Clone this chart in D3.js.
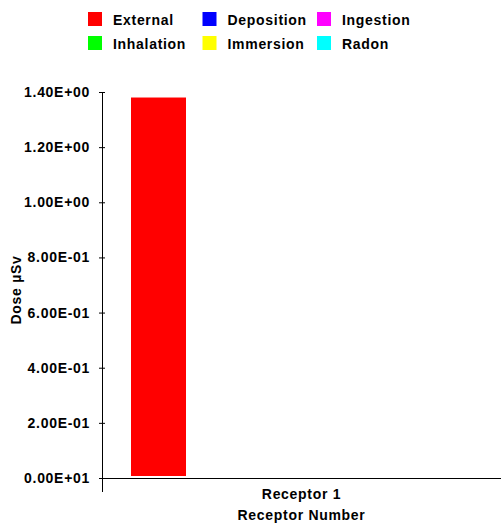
<!DOCTYPE html>
<html>
<head>
<meta charset="utf-8">
<script src="https://cdn.jsdelivr.net/npm/d3@7"></script>
<style>
  body { margin: 0; background: #fff; }
  text { font-family: "Liberation Sans", Arial, sans-serif; font-weight: bold; font-size: 14px; letter-spacing: 0.7px; fill: #000; }
</style>
</head>
<body>
<div id="chart-area"></div>
<script>
let receptors = ["Receptor 1"]
let seriesNames = ["External", "Deposition", "Ingestion", "Inhalation", "Immersion", "Radon"]
let seriesColors = ["#ff0000", "#0000ff", "#ff00ff", "#00ff00", "#ffff00", "#00ffff"]
let doseValues = [[1.38, 0, 0, 0, 0, 0]]   // per receptor, per series
let yTicks = [0, 0.2, 0.4, 0.6, 0.8, 1.0, 1.2, 1.4]
let yTickLabels = ["0.00E+01", "2.00E-01", "4.00E-01", "6.00E-01", "8.00E-01", "1.00E+00", "1.20E+00", "1.40E+00"]

let margin = { top: 92, right: 0, bottom: 45, left: 102 }
let canvasWidth = 501 - margin.left - margin.right
let canvasHeight = 523 - margin.top - margin.bottom

let svg = d3.select("#chart-area").append("svg")
  .attr("width", 501)
  .attr("height", 523)

// legend, 3 columns
let legend = svg.append("g").attr("transform", "translate(88, 12)")
let legendItems = legend.selectAll("g")
  .data(seriesNames)
  .enter()
  .append("g")
    .attr("transform", (d, i) => "translate(" + (i % 3) * 114.5 + ", " + Math.floor(i / 3) * 24 + ")")
legendItems.append("rect")
  .attr("width", 14)
  .attr("height", 14)
  .attr("fill", (d, i) => seriesColors[i])
legendItems.append("text")
  .attr("x", 25)
  .attr("y", 13)
  .text(d => d)

let graphGroup = svg.append("g")
  .attr("transform", "translate(" + margin.left + ", " + margin.top + ")")

let y = d3.scaleLinear()
  .domain([0, 1.4])
  .range([canvasHeight, 0])

let x = d3.scaleBand()
  .domain(receptors)
  .range([0, canvasWidth])

let x1 = d3.scaleBand()
  .domain(seriesNames)
  .range([29, 29 + 6 * 55])

// bars
let groups = graphGroup.selectAll("g.receptor")
  .data(receptors)
  .enter()
  .append("g")
    .attr("class", "receptor")
    .attr("transform", d => "translate(" + x(d) + ", 0)")

groups.selectAll("rect")
  .data((d, i) => doseValues[i].map((v, j) => ({ name: seriesNames[j], value: v, color: seriesColors[j] })))
  .enter()
  .append("rect")
    .filter(d => d.value > 0)
    .attr("x", d => x1(d.name))
    .attr("width", x1.bandwidth())
    .attr("y", d => y(d.value))
    .attr("height", d => canvasHeight - 2 - y(d.value))
    .attr("fill", d => d.color)

// y axis
let yAxis = d3.axisLeft(y)
  .tickValues(yTicks)
  .tickFormat((d, i) => yTickLabels[i])
  .tickSizeInner(3)
  .tickSizeOuter(0)
  .tickPadding(9)

let yAxisGroup = graphGroup.append("g").call(yAxis)
yAxisGroup.select(".domain").remove()
yAxisGroup.selectAll(".tick line").attr("x1", 3).attr("x2", -3).attr("stroke", "#000")
yAxisGroup.selectAll(".tick text").attr("fill", null)
yAxisGroup.attr("font-size", null).attr("font-family", null)

graphGroup.append("line")
  .attr("x1", 0.5).attr("x2", 0.5)
  .attr("y1", y(1.4)).attr("y2", canvasHeight + 14)
  .attr("stroke", "#000")

// x axis
let xAxis = d3.axisBottom(x)
  .tickSize(0)
  .tickPadding(11)

let xAxisGroup = graphGroup.append("g")
  .attr("transform", "translate(0, " + canvasHeight + ")")
  .call(xAxis)
xAxisGroup.attr("font-size", null).attr("font-family", null)
xAxisGroup.select(".domain").attr("stroke", "#000").attr("d", "M-3,0.5H" + canvasWidth)
xAxisGroup.selectAll(".tick text").attr("fill", null)

// axis titles
svg.append("text")
  .attr("x", margin.left + canvasWidth / 2)
  .attr("y", 520)
  .attr("text-anchor", "middle")
  .text("Receptor Number")

svg.append("text")
  .attr("transform", "translate(21, 290) rotate(-90)")
  .attr("text-anchor", "middle")
  .text("Dose µSv")
</script>
</body>
</html>
